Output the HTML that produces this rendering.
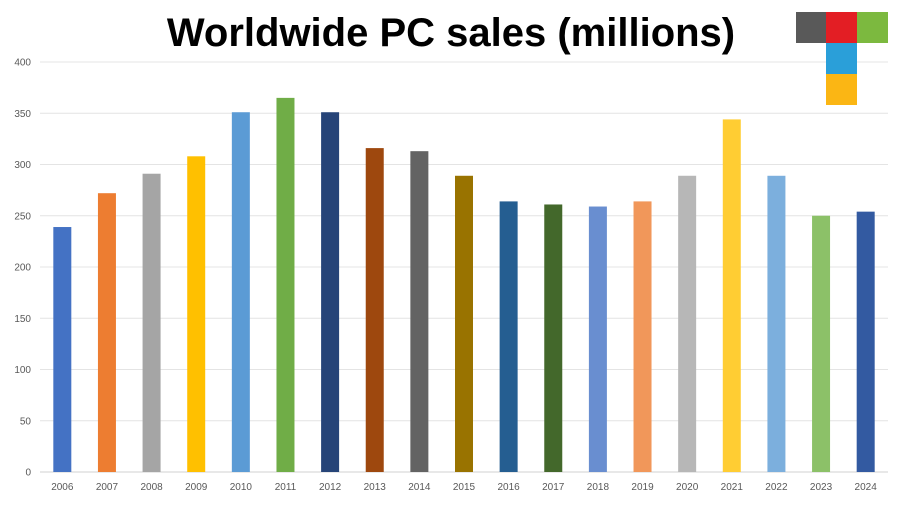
<!DOCTYPE html>
<html><head><meta charset="utf-8"><style>
body{margin:0;background:#fff;width:900px;height:507px;overflow:hidden;font-family:"Liberation Sans",sans-serif}
</style></head><body>
<svg width="900" height="507">
<text x="451" y="46" text-anchor="middle" font-size="40" font-weight="bold" fill="#000">Worldwide PC sales (millions)</text>
<g id="grid"></g><g id="bars"></g><g id="labels"></g>
<g>
<rect x="796" y="12" width="31" height="31" fill="#595959"/>
<rect x="826" y="12" width="31" height="31" fill="#e31e24"/>
<rect x="857" y="12" width="31" height="31" fill="#7cb93f"/>
<rect x="826" y="43" width="31" height="31" fill="#2a9fd9"/>
<rect x="826" y="74" width="31" height="31" fill="#fbb614"/>
</g>
</svg>
<script>
const years=["2006","2007","2008","2009","2010","2011","2012","2013","2014","2015","2016","2017","2018","2019","2020","2021","2022","2023","2024"];
const sales=[239,272,291,308,351,365,351,316,313,289,264,261,259,264,289,344,289,250,254];
const colors=["#4472c4","#ed7d31","#a5a5a5","#ffc000","#5b9bd5","#70ad47","#264478","#9e480e","#636363","#997300","#255e91","#43682b","#698ed0","#f1975a","#b7b7b7","#ffcd33","#7cafdd","#8cc168","#335aa1"];
const ticks=[0,50,100,150,200,250,300,350,400];
const NS="http://www.w3.org/2000/svg";
const x0=40,x1=888,y0=472,y1=62;
const yS=v=>y0-(v/400)*(y0-y1);
const bw=(x1-x0)/years.length;
const xC=i=>x0+bw*(i+0.5);
const g=document.getElementById('grid'),b=document.getElementById('bars'),l=document.getElementById('labels');
ticks.forEach(t=>{
const ln=document.createElementNS(NS,'line');


ln.setAttribute('x1',x0);ln.setAttribute('x2',x1);ln.setAttribute('y1',yS(t));ln.setAttribute('y2',yS(t));
ln.setAttribute('stroke',t===0?'#d0d0d0':'#e4e4e4');ln.setAttribute('stroke-width','1');g.appendChild(ln);
const tx=document.createElementNS(NS,'text');


tx.setAttribute('x',31);tx.setAttribute('y',yS(t)+3.5);tx.setAttribute('text-anchor','end');
tx.setAttribute('font-size','10');tx.setAttribute('fill','#595959');tx.textContent=t;l.appendChild(tx);
});
years.forEach((yr,i)=>{
const r=document.createElementNS(NS,'rect');


r.setAttribute('x',xC(i)-9);r.setAttribute('width',18);
r.setAttribute('y',yS(sales[i]));r.setAttribute('height',y0-yS(sales[i]));
r.setAttribute('fill',colors[i]);b.appendChild(r);
const tx=document.createElementNS(NS,'text');


tx.setAttribute('x',xC(i));tx.setAttribute('y',490);tx.setAttribute('text-anchor','middle');
tx.setAttribute('font-size','10');tx.setAttribute('fill','#595959');tx.textContent=yr;l.appendChild(tx);
});
</script>
</body></html>
